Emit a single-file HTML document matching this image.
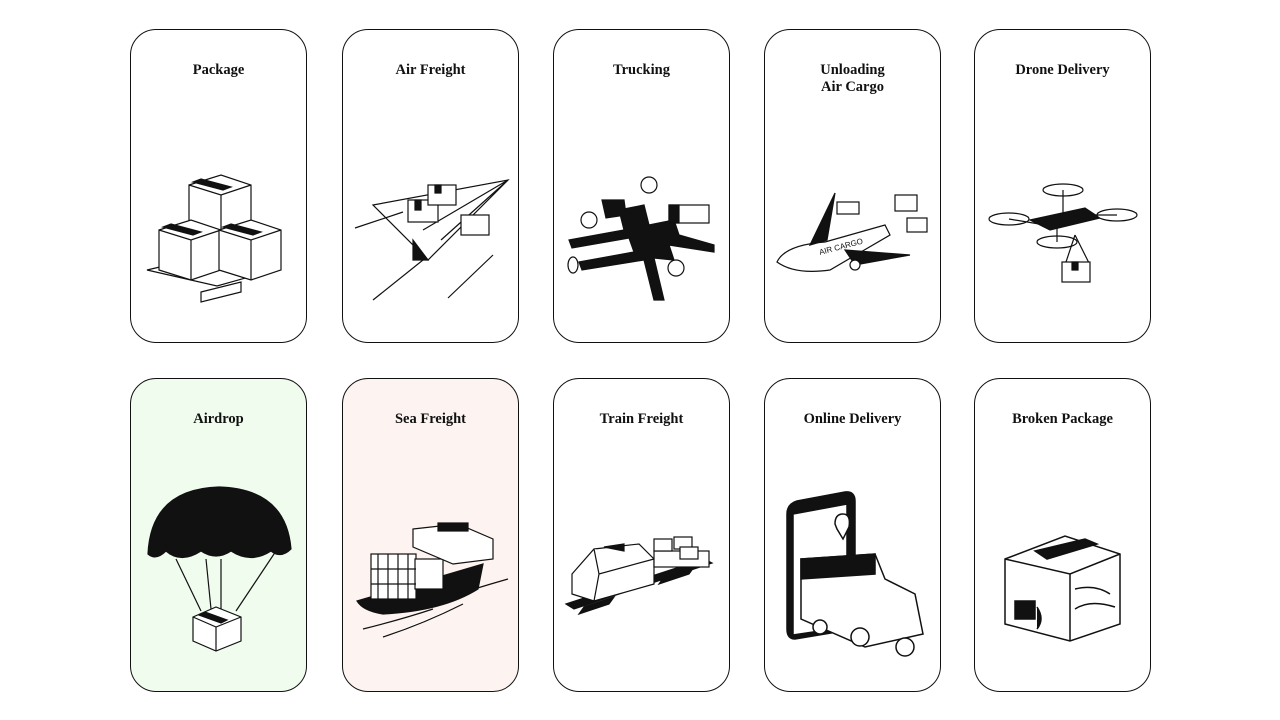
<!DOCTYPE html>
<html><head><meta charset="utf-8"><style>
body{margin:0;width:1280px;height:720px;background:#fff;position:relative;overflow:hidden;font-family:"Liberation Serif",serif}
.c{position:absolute;width:177px;height:314px;border:1.3px solid #111;border-radius:26px;box-sizing:border-box}
.t{position:absolute;left:0;right:0;text-align:center;font-weight:bold;font-size:14.5px;color:#111;line-height:17px}
svg{position:absolute;left:0;top:0}
</style></head><body>

<div class="c" style="left:130px;top:29px"><div class="t" style="top:32px">Package</div>
<svg width="175" height="312" stroke="#111" stroke-width="1.2" fill="#fff">
<path d="M16 240 L80 225 L150 238 L86 256 Z"/><path d="M70 262 L110 252 L110 262 L70 272Z"/>
<path d="M58 155 L90 145 L120 155 L120 195 L90 205 L58 195Z"/><path d="M58 155 L90 165 L120 155 M90 165 V205"/>
<path d="M28 200 L60 190 L90 200 L90 240 L60 250 L28 240Z"/><path d="M28 200 L60 210 L90 200 M60 210V250"/>
<path d="M88 200 L120 190 L150 200 L150 240 L120 250 L88 240Z"/><path d="M88 200 L120 210 L150 200 M120 210V250"/>
<path d="M62 152 L92 160 L100 157 L70 149Z M32 197 L62 205 L70 202 L40 194Z M92 197 L122 205 L130 202 L100 194Z" fill="#111"/>
</svg></div>

<div class="c" style="left:342px;top:29px"><div class="t" style="top:32px">Air Freight</div>
<svg width="175" height="312" stroke="#111" stroke-width="1.2" fill="#fff">
<path d="M30 175 L165 150 L85 230 Z"/><path d="M80 200 L165 150 L98 210"/>
<path d="M12 198 L60 182 M30 270 L80 230 M105 268 L150 225"/>
<path d="M85 230 L70 210 L70 230Z" fill="#111"/>
<rect x="65" y="170" width="30" height="22"/><rect x="85" y="155" width="28" height="20"/><rect x="118" y="185" width="28" height="20"/>
<path d="M72 170h6v10h-6z M92 155h6v8h-6z" fill="#111"/>
</svg></div>

<div class="c" style="left:553px;top:29px"><div class="t" style="top:32px">Trucking</div>
<svg width="175" height="312" fill="#111" stroke="#111" stroke-width="1.2">
<path d="M15 210 L70 200 L65 180 L90 175 L95 195 L120 190 L125 205 L160 215 L160 222 L115 215 L120 230 L100 228 L110 270 L100 270 L90 230 L28 240 L25 232 L80 222 L75 208 L18 218Z"/>
<path d="M48 170 L70 170 L72 185 L52 188Z M70 185 L88 182"/>
<rect x="115" y="175" width="40" height="18" fill="#fff"/><path d="M115 175 h10 v18 h-10z"/>
<circle cx="35" cy="190" r="8" fill="#fff"/><circle cx="95" cy="155" r="8" fill="#fff"/><circle cx="122" cy="238" r="8" fill="#fff"/>
<ellipse cx="19" cy="235" rx="5" ry="8" fill="#fff"/>
</svg></div>

<div class="c" style="left:764px;top:29px"><div class="t" style="top:32px">Unloading<br>Air Cargo</div>
<svg width="175" height="312" stroke="#111" stroke-width="1.2" fill="#fff">
<path d="M12 232 Q20 215 60 212 L120 195 L125 205 L65 240 Q30 245 12 232Z"/>
<path d="M45 215 L70 163 L62 210Z" fill="#111"/>
<path d="M80 220 L145 225 L90 235Z" fill="#111"/>
<text x="55" y="225" font-size="8" fill="#111" stroke="none" font-family="Liberation Sans" transform="rotate(-15 55 225)">AIR CARGO</text>
<rect x="72" y="172" width="22" height="12"/><rect x="130" y="165" width="22" height="16"/><rect x="142" y="188" width="20" height="14"/>
<circle cx="90" cy="235" r="5"/>
</svg></div>

<div class="c" style="left:974px;top:29px"><div class="t" style="top:32px">Drone Delivery</div>
<svg width="175" height="312" stroke="#111" stroke-width="1.2" fill="#fff">
<path d="M55 190 L110 178 L125 188 L75 200Z" fill="#111"/>
<ellipse cx="88" cy="160" rx="20" ry="6"/><ellipse cx="34" cy="189" rx="20" ry="6"/><ellipse cx="142" cy="185" rx="20" ry="6"/><ellipse cx="82" cy="212" rx="20" ry="6"/>
<path d="M34 189 L70 195 M88 160 V185 M82 212 V198 M142 185 L115 185 M100 205 L90 235 M100 205 L115 235"/>
<rect x="87" y="232" width="28" height="20"/><path d="M97 232h6v8h-6z" fill="#111"/>
</svg></div>

<div class="c" style="left:130px;top:378px;background:#f0fcee"><div class="t" style="top:32px">Airdrop</div>
<svg width="175" height="312" stroke="#111" stroke-width="1.2" fill="#fff">
<path d="M17 175 Q20 110 88 108 Q155 110 160 170 Q150 180 140 172 Q120 185 100 172 Q85 182 70 172 Q50 185 35 172 Q25 182 17 175Z" fill="#111"/>
<path d="M45 180 L70 232 M75 180 L80 230 M90 180 L90 230 M145 172 L105 232"/>
<path d="M62 238 L85 228 L110 238 L110 262 L85 272 L62 262Z"/><path d="M62 238 L85 248 L110 238 M85 248V272"/>
<path d="M68 236 L90 244 L96 241 L74 233Z" fill="#111"/>
</svg></div>

<div class="c" style="left:342px;top:378px;background:#fdf3f1"><div class="t" style="top:32px">Sea Freight</div>
<svg width="175" height="312" stroke="#111" stroke-width="1.2" fill="#fff">
<path d="M14 222 L140 185 L135 210 Q100 232 40 235 Q20 232 14 222Z" fill="#111"/>
<rect x="28" y="175" width="45" height="45"/><rect x="72" y="180" width="28" height="30"/>
<path d="M35 175v45 M45 175v45 M55 175v45 M65 175v45 M28 190h45 M28 205h45"/>
<path d="M70 150 L115 145 L150 160 L150 180 L110 185 L70 168Z"/>
<rect x="95" y="144" width="30" height="8" fill="#111"/>
<path d="M20 250 Q60 240 90 230 M40 258 Q80 245 120 225 M100 220 Q130 210 165 200"/>
</svg></div>

<div class="c" style="left:553px;top:378px"><div class="t" style="top:32px">Train Freight</div>
<svg width="175" height="312" stroke="#111" stroke-width="1.2" fill="#fff">
<path d="M12 225 L150 180 L158 184 L20 230Z M30 228 L60 218 L55 225 L25 235Z M110 198 L140 188 L135 195 L105 205Z" fill="#111"/>
<path d="M18 195 L40 170 L85 165 L100 180 L100 205 L40 222 L18 215Z"/>
<path d="M40 170 L45 195 L100 180 M45 195 L40 222"/><path d="M50 168 L70 165 L70 172Z" fill="#111"/>
<rect x="100" y="172" width="55" height="16"/><rect x="100" y="160" width="18" height="12"/><rect x="120" y="158" width="18" height="12"/><rect x="126" y="168" width="18" height="12"/>
</svg></div>

<div class="c" style="left:764px;top:378px"><div class="t" style="top:32px">Online Delivery</div>
<svg width="175" height="312" stroke="#111" stroke-width="1.5" fill="#fff">
<path d="M22 135 Q22 125 32 122 L80 113 Q90 112 90 122 L90 250 L30 260 Q22 260 22 250Z" fill="#111"/>
<path d="M28 135 L82 125 L82 248 L28 256Z"/>
<path d="M36 180 L110 175 L120 200 L150 215 L158 255 L100 268 L36 240Z"/>
<path d="M36 180 L110 175 L110 195 L36 200Z" fill="#111"/>
<circle cx="55" cy="248" r="7"/><circle cx="95" cy="258" r="9"/><circle cx="140" cy="268" r="9"/>
<path d="M70 145 Q70 135 78 135 Q86 135 84 148 L78 160 L72 150Z"/>
</svg></div>

<div class="c" style="left:974px;top:378px"><div class="t" style="top:32px">Broken Package</div>
<svg width="175" height="312" stroke="#111" stroke-width="1.5" fill="#fff">
<path d="M30 180 L90 157 L145 175 L145 245 L95 262 L30 245Z"/><path d="M30 180 L95 195 L145 175 M95 195 V262"/>
<path d="M60 172 L110 160 L122 165 L72 180Z" fill="#111"/>
<path d="M40 222h20v18h-20z M62 228 Q70 240 62 250" fill="#111"/>
<path d="M100 210 Q120 205 135 215 M100 230 Q115 220 140 228"/>
</svg></div>

</body></html>
